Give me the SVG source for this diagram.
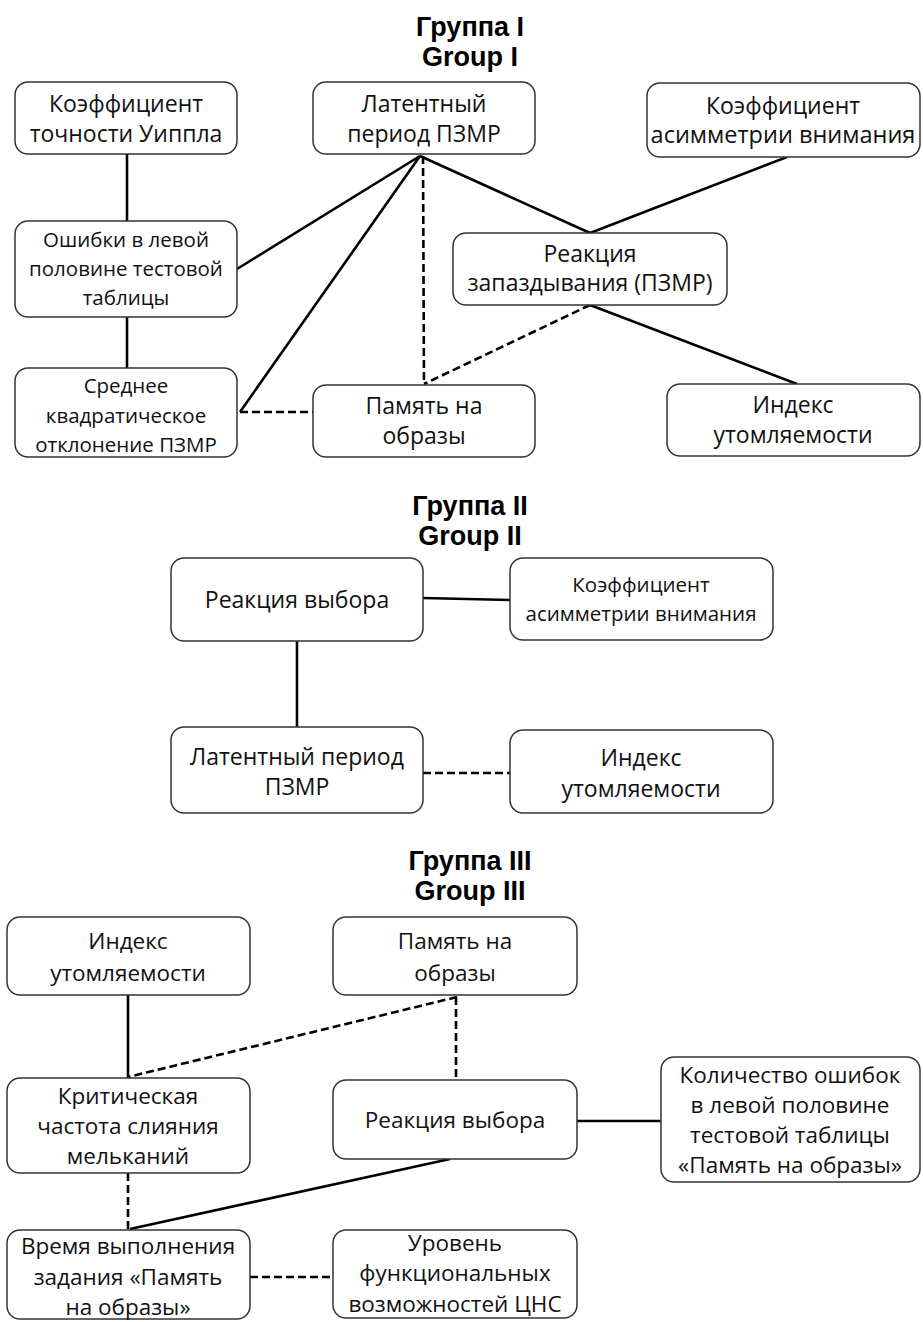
<svg xmlns="http://www.w3.org/2000/svg" width="923" height="1322" viewBox="0 0 923 1322">
<style>
.box{fill:#fff;stroke:#333;stroke-width:1.5}
.t{font-family:"Open Sans","DejaVu Sans",sans-serif;font-size:23px;fill:#111;text-anchor:middle}
.s{font-size:20.5px}
.m{font-size:22.5px}
.h{font-family:"Liberation Sans",Arial,sans-serif;font-weight:bold;font-size:27px;fill:#000;text-anchor:middle}
.c{stroke:#000;stroke-width:2.6;fill:none}
.d{stroke-dasharray:8 4}
</style>
<rect width="923" height="1322" fill="#fff"/>
<g id="titles">
<text class="h" x="470" y="36">Группа I</text>
<text class="h" x="470" y="66">Group I</text>
<text class="h" x="470" y="515">Группа II</text>
<text class="h" x="470" y="545">Group II</text>
<text class="h" x="470" y="870">Группа III</text>
<text class="h" x="470" y="900">Group III</text>
</g>
<g id="connectors">
<line class="c" x1="127" y1="154" x2="127" y2="221"/>
<line class="c" x1="127" y1="317" x2="127" y2="368"/>
<line class="c" x1="420" y1="156" x2="237" y2="269"/>
<line class="c" x1="420" y1="156" x2="240" y2="412"/>
<line class="c" x1="420" y1="156" x2="590" y2="233"/>
<line class="c" x1="787" y1="157" x2="590" y2="233"/>
<line class="c d" x1="423" y1="156" x2="424" y2="384"/>
<line class="c d" x1="590" y1="305" x2="424" y2="384"/>
<line class="c" x1="590" y1="305" x2="797" y2="384"/>
<line class="c d" x1="240" y1="412" x2="313" y2="412"/>
<line class="c" x1="423" y1="598" x2="510" y2="600"/>
<line class="c" x1="297" y1="641" x2="297" y2="727"/>
<line class="c d" x1="423" y1="773" x2="510" y2="773"/>
<line class="c" x1="128" y1="995" x2="128" y2="1078"/>
<line class="c d" x1="457" y1="997" x2="128" y2="1077"/>
<line class="c d" x1="456" y1="997" x2="456" y2="1080"/>
<line class="c d" x1="128" y1="1173" x2="128" y2="1230"/>
<line class="c" x1="450" y1="1159" x2="130" y2="1229"/>
<line class="c" x1="577" y1="1121" x2="661" y2="1121"/>
<line class="c d" x1="250" y1="1277" x2="333" y2="1277"/>
</g>
<g id="n1"><rect class="box" x="15" y="82" width="222" height="72" rx="13"/><text class="t" x="126" y="112">Коэффициент</text><text class="t" x="126" y="142">точности Уиппла</text></g>
<g id="n2"><rect class="box" x="313" y="82" width="222" height="72" rx="13"/><text class="t" x="424" y="112">Латентный</text><text class="t" x="424" y="142">период ПЗМР</text></g>
<g id="n3"><rect class="box" x="647" y="83" width="273" height="74" rx="13"/><text class="t" x="783" y="114">Коэффициент</text><text class="t" x="783" y="143" style="font-size:23.5px">асимметрии внимания</text></g>
<g id="n4"><rect class="box" x="15" y="221" width="222" height="96" rx="13"/><text class="t s" x="126" y="247">Ошибки в левой</text><text class="t s" x="126" y="276">половине тестовой</text><text class="t s" x="126" y="305">таблицы</text></g>
<g id="n5"><rect class="box" x="453" y="233" width="274" height="72" rx="13"/><text class="t" x="590" y="262">Реакция</text><text class="t" x="590" y="291">запаздывания (ПЗМР)</text></g>
<g id="n6"><rect class="box" x="15" y="368" width="222" height="89" rx="13"/><text class="t s" x="126" y="393">Среднее</text><text class="t s" x="126" y="423">квадратическое</text><text class="t s" x="126" y="452">отклонение ПЗМР</text></g>
<g id="n7"><rect class="box" x="313" y="385" width="222" height="72" rx="13"/><text class="t" x="424" y="414">Память на</text><text class="t" x="424" y="444">образы</text></g>
<g id="n8"><rect class="box" x="667" y="384" width="253" height="72" rx="13"/><text class="t" x="793" y="413">Индекс</text><text class="t" x="793" y="443">утомляемости</text></g>
<g id="n9"><rect class="box" x="171" y="558" width="252" height="83" rx="13"/><text class="t" x="297" y="608">Реакция выбора</text></g>
<g id="n10"><rect class="box" x="510" y="558" width="263" height="82" rx="13"/><text class="t s" x="641" y="592">Коэффициент</text><text class="t s" x="641" y="621">асимметрии внимания</text></g>
<g id="n11"><rect class="box" x="171" y="727" width="252" height="86" rx="13"/><text class="t" x="297" y="765">Латентный период</text><text class="t" x="297" y="795">ПЗМР</text></g>
<g id="n12"><rect class="box" x="510" y="730" width="263" height="83" rx="13"/><text class="t" x="641" y="766">Индекс</text><text class="t" x="641" y="797">утомляемости</text></g>
<g id="n13"><rect class="box" x="7" y="917" width="243" height="78" rx="13"/><text class="t m" x="128" y="949">Индекс</text><text class="t m" x="128" y="981">утомляемости</text></g>
<g id="n14"><rect class="box" x="333" y="917" width="244" height="78" rx="13"/><text class="t m" x="455" y="949">Память на</text><text class="t m" x="455" y="981">образы</text></g>
<g id="n15"><rect class="box" x="7" y="1078" width="243" height="95" rx="13"/><text class="t m" x="128" y="1104">Критическая</text><text class="t m" x="128" y="1134">частота слияния</text><text class="t m" x="128" y="1164">мельканий</text></g>
<g id="n16"><rect class="box" x="333" y="1080" width="244" height="79" rx="13"/><text class="t m" x="455" y="1128">Реакция выбора</text></g>
<g id="n17"><rect class="box" x="661" y="1057" width="259" height="125" rx="13"/><text class="t m" x="790" y="1083">Количество ошибок</text><text class="t m" x="790" y="1113">в левой половине</text><text class="t m" x="790" y="1143">тестовой таблицы</text><text class="t m" x="790" y="1173">«Память на образы»</text></g>
<g id="n18"><rect class="box" x="7" y="1230" width="243" height="89" rx="13"/><text class="t m" x="128" y="1254">Время выполнения</text><text class="t m" x="128" y="1285">задания «Память</text><text class="t m" x="128" y="1315">на образы»</text></g>
<g id="n19"><rect class="box" x="333" y="1230" width="244" height="88" rx="13"/><text class="t m" x="455" y="1251">Уровень</text><text class="t m" x="455" y="1281">функциональных</text><text class="t m" x="455" y="1312">возможностей ЦНС</text></g>
</svg>
